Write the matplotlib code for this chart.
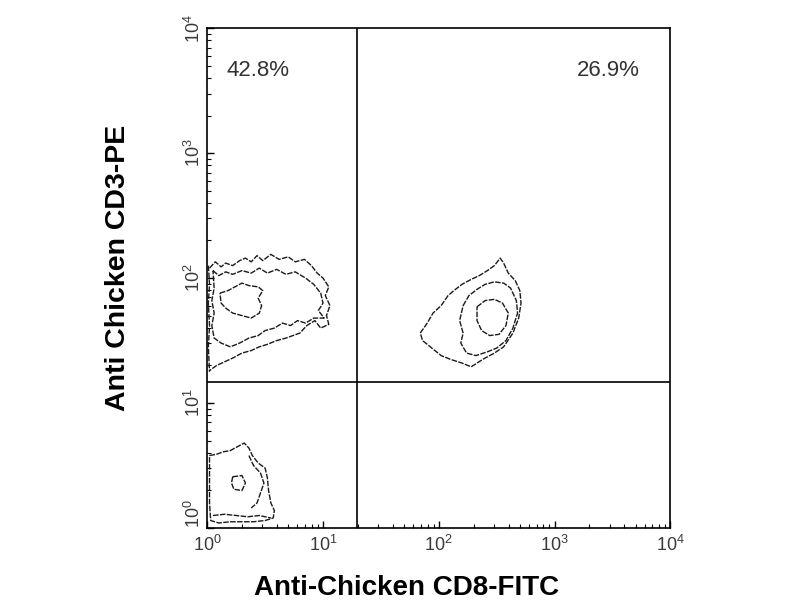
import matplotlib
matplotlib.use("Agg")
import matplotlib.pyplot as plt
import numpy as np
from matplotlib.ticker import LogLocator, NullFormatter

plt.rcParams["font.family"] = ["Liberation Sans", "DejaVu Sans"]
plt.rcParams["mathtext.fontset"] = "custom"
plt.rcParams["mathtext.rm"] = "Liberation Sans"
plt.rcParams["mathtext.it"] = "Liberation Sans:italic"
plt.rcParams["mathtext.bf"] = "Liberation Sans:bold"

# quadrant gate (linear units) and quadrant percentages
gate_cd8 = 19.8
gate_cd3 = 14.7
pct_ul = "42.8%"
pct_ur = "26.9%"

decades = [1, 10, 100, 1000, 10000]
decade_labels = [r"$\mathdefault{10^{0}}$", r"$\mathdefault{10^{1}}$", r"$\mathdefault{10^{2}}$",
                 r"$\mathdefault{10^{3}}$", r"$\mathdefault{10^{4}}$"]

# contour outlines, as log10 decades (CD8 exponent, CD3 exponent)
ul_outer_x = [0.02, 0.07, 0.12, 0.16, 0.22, 0.28, 0.33, 0.38, 0.43, 0.48, 0.55, 0.62, 0.70, 0.76, 0.84, 0.90, 0.95, 1.00, 1.05, 1.02, 1.06, 1.03, 1.05, 0.98, 0.93, 0.86, 0.80, 0.74, 0.68, 0.60, 0.52, 0.45, 0.38, 0.30, 0.22, 0.15, 0.08, 0.02]
ul_outer_y = [2.08, 2.13, 2.09, 2.12, 2.10, 2.14, 2.16, 2.13, 2.18, 2.14, 2.19, 2.15, 2.17, 2.13, 2.15, 2.10, 2.04, 2.00, 1.93, 1.86, 1.78, 1.70, 1.63, 1.60, 1.66, 1.62, 1.56, 1.54, 1.52, 1.50, 1.47, 1.45, 1.42, 1.40, 1.36, 1.33, 1.30, 1.26]
ul_mid_x = [0.05, 0.10, 0.16, 0.22, 0.30, 0.38, 0.45, 0.52, 0.60, 0.68, 0.76, 0.85, 0.92, 0.98, 1.00, 0.96, 1.01, 0.92, 0.85, 0.78, 0.72, 0.65, 0.58, 0.50, 0.44, 0.36, 0.28, 0.20, 0.12, 0.06, 0.04, 0.06, 0.04, 0.06, 0.05]
ul_mid_y = [2.06, 2.02, 2.05, 2.03, 2.06, 2.04, 2.08, 2.04, 2.07, 2.03, 2.05, 2.00, 1.95, 1.88, 1.80, 1.74, 1.68, 1.68, 1.64, 1.66, 1.62, 1.64, 1.60, 1.58, 1.54, 1.52, 1.48, 1.45, 1.48, 1.52, 1.62, 1.72, 1.82, 1.92, 2.06]
ul_inner_x = [0.11, 0.18, 0.24, 0.30, 0.36, 0.44, 0.48, 0.44, 0.47, 0.45, 0.38, 0.30, 0.22, 0.16, 0.12, 0.11]
ul_inner_y = [1.88, 1.90, 1.93, 1.96, 1.94, 1.93, 1.90, 1.84, 1.78, 1.72, 1.68, 1.70, 1.72, 1.76, 1.80, 1.88]
ul_edge_x = [0.01, 0.02, 0.01, 0.02, 0.01, 0.02]
ul_edge_y = [2.10, 1.95, 1.80, 1.62, 1.45, 1.25]

ur_outer_x = [1.84, 1.90, 1.95, 2.02, 2.08, 2.13, 2.20, 2.28, 2.35, 2.42, 2.48, 2.53, 2.56, 2.60, 2.66, 2.70, 2.71, 2.69, 2.64, 2.56, 2.48, 2.38, 2.28, 2.20, 2.10, 2.02, 1.94, 1.86, 1.84]
ur_outer_y = [1.56, 1.64, 1.72, 1.78, 1.86, 1.90, 1.95, 1.99, 2.02, 2.06, 2.10, 2.16, 2.12, 2.04, 1.98, 1.90, 1.80, 1.68, 1.56, 1.45, 1.40, 1.35, 1.29, 1.32, 1.35, 1.38, 1.44, 1.50, 1.56]
ur_mid_x = [2.21, 2.26, 2.33, 2.40, 2.48, 2.56, 2.62, 2.67, 2.68, 2.64, 2.58, 2.50, 2.42, 2.32, 2.24, 2.19, 2.21, 2.18, 2.21]
ur_mid_y = [1.78, 1.86, 1.91, 1.95, 1.97, 1.96, 1.92, 1.82, 1.72, 1.60, 1.50, 1.44, 1.41, 1.38, 1.40, 1.48, 1.56, 1.66, 1.78]
ur_inner_x = [2.33, 2.40, 2.48, 2.55, 2.60, 2.58, 2.52, 2.44, 2.37, 2.33, 2.33]
ur_inner_y = [1.77, 1.82, 1.83, 1.80, 1.72, 1.62, 1.55, 1.54, 1.58, 1.66, 1.77]

ll_outer_x = [0.02, 0.08, 0.14, 0.20, 0.26, 0.32, 0.36, 0.39, 0.44, 0.50, 0.52, 0.53, 0.55, 0.58, 0.57, 0.50, 0.40, 0.30, 0.20, 0.10, 0.03, 0.02, 0.02, 0.02]
ll_outer_y = [0.58, 0.59, 0.61, 0.62, 0.65, 0.68, 0.64, 0.58, 0.52, 0.48, 0.40, 0.30, 0.20, 0.14, 0.08, 0.06, 0.05, 0.05, 0.05, 0.04, 0.06, 0.20, 0.40, 0.58]
ll_inner_x = [0.22, 0.30, 0.33, 0.30, 0.23, 0.21, 0.22]
ll_inner_y = [0.41, 0.42, 0.36, 0.30, 0.31, 0.36, 0.41]
ll_band_x = [0.36, 0.40, 0.46, 0.49, 0.46, 0.43, 0.38]
ll_band_y = [0.58, 0.50, 0.44, 0.36, 0.28, 0.20, 0.16]
ll_base_x = [0.05, 0.15, 0.25, 0.35, 0.45, 0.55]
ll_base_y = [0.10, 0.11, 0.10, 0.09, 0.10, 0.08]

contours = [
    (ul_outer_x, ul_outer_y), (ul_mid_x, ul_mid_y), (ul_inner_x, ul_inner_y), (ul_edge_x, ul_edge_y),
    (ur_outer_x, ur_outer_y), (ur_mid_x, ur_mid_y), (ur_inner_x, ur_inner_y),
    (ll_outer_x, ll_outer_y), (ll_inner_x, ll_inner_y), (ll_band_x, ll_band_y), (ll_base_x, ll_base_y),
]

fig = plt.figure(figsize=(8, 6), dpi=100)
ax = fig.add_axes([0.259, 0.12, 0.579, 0.833])
ax.set_xscale("log")
ax.set_yscale("log")
ax.set_xlim(1, 1e4)
ax.set_ylim(1, 1e4)

for cx, cy in contours:
    ax.plot(10 ** np.array(cx), 10 ** np.array(cy), color="#1a1a1a", lw=1.0,
            linestyle=(0, (4, 1)))

ax.axvline(gate_cd8, color="black", lw=1.2)
ax.axhline(gate_cd3, color="black", lw=1.2)

ax.text(10 ** 0.44, 10 ** 3.66, pct_ul, ha="center", va="center", fontsize=16, color="#333333")
ax.text(10 ** 3.46, 10 ** 3.66, pct_ur, ha="center", va="center", fontsize=16, color="#333333")

for s in ax.spines.values():
    s.set_linewidth(1.2)

ax.set_xticks(decades, labels=decade_labels)
ax.set_yticks(decades, labels=decade_labels)
for axis in (ax.xaxis, ax.yaxis):
    axis.set_minor_locator(LogLocator(base=10, subs=np.arange(2, 10), numticks=10))
    axis.set_minor_formatter(NullFormatter())

ax.tick_params(which="major", direction="in", length=5, width=1, labelsize=13, labelcolor="#3a3a3a")
ax.tick_params(which="minor", direction="in", length=3, width=0.8)
ax.tick_params(axis="x", pad=5)
ax.tick_params(axis="y", pad=2)
ylabels = ax.get_yticklabels()
for lbl in ylabels:
    lbl.set_rotation(90)
    lbl.set_va("center")
ylabels[0].set_va("bottom")

ax.set_xlabel("Anti-Chicken CD8-FITC", fontsize=20, fontweight="bold")
ax.set_ylabel("Anti Chicken CD3-PE", fontsize=20.5, fontweight="bold")
ax.xaxis.set_label_coords(0.43, -0.12)
ax.yaxis.set_label_coords(-0.192, 0.52)
ax.xaxis.label.set_va("center")
ax.yaxis.label.set_va("center")

fig.savefig("out.png", dpi=100)
